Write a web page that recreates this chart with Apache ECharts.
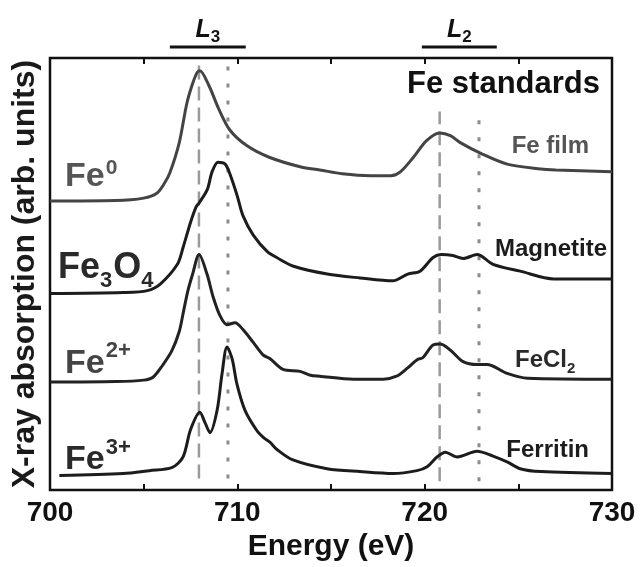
<!DOCTYPE html>
<html>
<head>
<meta charset="utf-8">
<script src="https://cdn.jsdelivr.net/npm/echarts@6/dist/echarts.min.js"></script>
<style>
  html, body { margin: 0; padding: 0; background: #fff; }
  #chart { width: 640px; height: 567px; }
</style>
</head>
<body>
<div id="chart"></div>
<script>
const FONT = '"Liberation Sans", Arial, Helvetica, sans-serif';

// Fe L-edge XAS spectra: [energy (eV), intensity above the curve's own pre-edge level]
const feFilm = [
  [700, 0], [703.5, 0.05], [705.0, 0.3], [705.7, 0.8], [706.1, 1.8], [706.4, 2.9],
  [706.9, 6.0], [707.3, 10.0], [707.6, 12.0], [707.85, 13.2], [708.0, 13.4], [708.5, 11.8],
  [709.0, 9.5], [709.6, 7.3], [710.5, 5.7], [711.7, 4.5], [713.4, 3.5], [714.4, 3.2],
  [715.6, 2.8], [717.1, 2.6], [718.2, 2.6], [718.7, 3.0], [719.4, 4.5], [720.1, 6.2],
  [720.8, 7.0], [721.4, 6.7], [721.9, 6.0], [723.0, 4.9], [724.4, 3.8], [726.2, 3.3],
  [727.0, 3.2], [730, 3.0]
];
const magnetite = [
  [700, 0], [703.9, 0.1], [705.2, 0.3], [705.9, 1.0], [706.8, 3.0], [707.1, 4.7],
  [707.5, 7.3], [707.8, 8.9], [707.96, 9.3], [708.4, 10.7], [708.65, 12.5], [708.97, 13.5],
  [709.35, 13.3], [709.6, 12.3], [710.0, 10.0], [710.3, 8.0], [710.85, 6.0], [711.6, 4.3],
  [712.1, 3.7], [713.0, 2.8], [714.8, 2.0], [716.55, 1.6], [718.3, 1.3], [719.1, 2.0],
  [719.75, 2.3], [720.45, 3.7], [720.9, 4.0], [721.5, 3.9], [722.05, 3.6], [722.8, 4.0],
  [723.65, 3.0], [725.1, 2.3], [726.9, 1.5], [730, 1.5]
];
const feCl2 = [
  [700, 0], [703.5, 0.05], [705.0, 0.2], [705.5, 0.5], [706.0, 1.7], [706.5, 3.2],
  [706.9, 5.2], [707.1, 7.0], [707.35, 9.3], [707.6, 11.0], [707.96, 13.1], [708.38, 11.1],
  [708.7, 8.8], [709.08, 6.8], [709.45, 5.9], [709.88, 6.1], [710.3, 5.4], [710.84, 4.1],
  [711.37, 2.8], [711.75, 2.4], [712.44, 1.3], [713.35, 1.1], [713.9, 0.7], [714.4, 0.6],
  [716.2, 0.3], [717.8, 0.3], [718.5, 0.6], [719.06, 1.4], [719.6, 2.3], [719.9, 2.5],
  [720.45, 3.8], [720.82, 3.9], [721.36, 3.3], [722.05, 2.1], [722.8, 1.8], [723.33, 1.8],
  [724.4, 0.9], [725.5, 0.4], [730, 0.3]
];
const ferritin = [
  [700.5, 0], [703.9, 0.2], [705.3, 0.5], [706.5, 0.8], [707.1, 1.9], [707.5, 4.7],
  [708.0, 6.5], [708.28, 5.4], [708.54, 4.4], [708.92, 6.7], [709.18, 10.4], [709.45, 13.2],
  [709.72, 12.0], [709.98, 9.4], [710.41, 6.7], [711.05, 4.6], [711.4, 3.9], [711.75, 3.4],
  [712.1, 2.7], [712.97, 1.6], [714.79, 0.7], [716.55, 0.4], [718.31, 0.2], [719.59, 0.5],
  [720.13, 0.9], [720.66, 1.9], [721.1, 2.4], [721.73, 1.9], [722.8, 2.5], [723.65, 2.0],
  [724.4, 1.4], [725.1, 0.7], [726.2, 0.4], [730, 0.2]
];

// vertical stacking of the four standards (arb. units)
const baselines = [29.7, 20.2, 11.1, 1.5];
const sampleNames = ['Fe film', 'Magnetite', 'FeCl2', 'Ferritin'];

// x-axis labels
const xTickLabels = [700, 710, 720, 730];

// reference energies: Fe2+ L3/L2 maxima (dashed) and Fe3+ maxima (dotted), with vertical extent
const dashedGuides = [[707.95, 1.2, 43.9], [720.8, 0.9, 38.9]];
const dottedGuides = [[709.5, 1.2, 43.9], [722.9, 0.9, 38.9]];

// edge brackets drawn above the frame
const edgeBrackets = [
  { name: 'L', sub: '3', from: 706.4, to: 710.45 },
  { name: 'L', sub: '2', from: 719.85, to: 723.85 }
];

const lineColors = ['#444444', '#1c1c1c', '#222222', '#1c1c1c'];

const chart = echarts.init(document.getElementById('chart'), null, { renderer: 'canvas' });

const spectra = [feFilm, magnetite, feCl2, ferritin];
const series = [];

dashedGuides.forEach(g => series.push({
  type: 'line', data: [[g[0], g[1]], [g[0], g[2]]], showSymbol: false, silent: true, z: 1,
  lineStyle: { color: '#9a9a9a', width: 2.5, type: [14, 7] }
}));
dottedGuides.forEach(g => series.push({
  type: 'line', data: [[g[0], g[1]], [g[0], g[2]]], showSymbol: false, silent: true, z: 1,
  lineStyle: { color: '#8c8c8c', width: 3, type: [4, 13] }
}));
spectra.forEach((s, i) => series.push({
  type: 'line', name: sampleNames[i],
  data: s.map(p => [p[0], p[1] + baselines[i]]),
  showSymbol: false, smooth: 0.3, z: 3,
  lineStyle: { color: lineColors[i], width: 3 }
}));

const tickStyle = { inside: true, length: 6, lineStyle: { color: '#111', width: 2 } };

chart.setOption({
  animation: false,
  backgroundColor: '#fff',
  grid: { left: 50, right: 28, top: 58, bottom: 65, show: true, borderColor: '#111', borderWidth: 2.5 },
  xAxis: [
    {
      type: 'value', min: 700, max: 730, interval: 5, position: 'bottom',
      axisLine: { show: false }, axisTick: tickStyle, splitLine: { show: false },
      axisLabel: {
        formatter: v => (xTickLabels.includes(v) ? String(v) : ''),
        fontSize: 28, fontWeight: 'bold', color: '#111', fontFamily: FONT, margin: 9
      },
      name: 'Energy (eV)', nameLocation: 'middle', nameGap: 36,
      nameTextStyle: { fontSize: 30, fontWeight: 'bold', color: '#111', fontFamily: FONT }
    },
    {
      type: 'value', min: 700, max: 730, interval: 5, position: 'top',
      axisLine: { show: false }, axisTick: tickStyle, splitLine: { show: false },
      axisLabel: { show: false }
    }
  ],
  yAxis: {
    type: 'value', min: 0, max: 44.4,
    axisLine: { show: false }, axisTick: { show: false }, axisLabel: { show: false },
    splitLine: { show: false },
    name: 'X-ray absorption (arb. units)', nameLocation: 'middle', nameGap: 9, nameRotate: 90,
    nameTextStyle: { fontSize: 32, fontWeight: 'bold', color: '#1a1a1a', fontFamily: FONT }
  },
  series: series
});

// text with sub/superscripts laid out piece by piece
const measureCtx = document.createElement('canvas').getContext('2d');
function textWidth(t, size, weight, style) {
  measureCtx.font = `${style || 'normal'} ${weight || 'bold'} ${size}px ${FONT}`;
  return measureCtx.measureText(t).width;
}
function compound(x, y, parts, color) {
  const out = [];
  let cx = x;
  parts.forEach(p => {
    const style = p.italic ? 'italic' : 'normal';
    out.push({
      type: 'text', x: cx, y: y + (p.dy || 0), z: 10,
      style: {
        text: p.t, fill: color, font: `${style} bold ${p.size}px ${FONT}`,
        align: 'left', verticalAlign: 'middle'
      }
    });
    cx += textWidth(p.t, p.size, 'bold', style) + (p.gap || 0);
  });
  return out;
}
function plain(xRight, y, t, size, color) {
  return {
    type: 'text', x: xRight, y: y, z: 10,
    style: { text: t, fill: color, font: `bold ${size}px ${FONT}`, align: 'right', verticalAlign: 'middle' }
  };
}

const graphics = [];
// oxidation-state labels on the left
graphics.push(...compound(65, 177, [{ t: 'Fe', size: 34, gap: 1 }, { t: '0', size: 21, dy: -9 }], '#555'));
graphics.push(...compound(58, 268, [{ t: 'Fe', size: 36 }, { t: '3', size: 22, dy: 13, gap: 1 }, { t: 'O', size: 36 }, { t: '4', size: 22, dy: 13 }], '#2a2a2a'));
graphics.push(...compound(65, 364, [{ t: 'Fe', size: 34, gap: 1 }, { t: '2+', size: 22, dy: -13 }], '#444'));
graphics.push(...compound(65, 460, [{ t: 'Fe', size: 34, gap: 1 }, { t: '3+', size: 22, dy: -12 }], '#2a2a2a'));

// sample names on the right
graphics.push(plain(600, 84, 'Fe standards', 31, '#111'));
graphics.push(plain(589, 146, 'Fe film', 24, '#555'));
graphics.push(plain(607, 249, 'Magnetite', 24, '#1c1c1c'));
graphics.push(...compound(515, 360, [{ t: 'FeCl', size: 24 }, { t: '2', size: 15, dy: 9 }], '#2a2a2a'));
graphics.push(plain(589, 450, 'Ferritin', 24, '#1c1c1c'));

// L3 / L2 edge brackets
edgeBrackets.forEach(b => {
  const p0 = chart.convertToPixel({ xAxisIndex: 0, yAxisIndex: 0 }, [b.from, 0]);
  const p1 = chart.convertToPixel({ xAxisIndex: 0, yAxisIndex: 0 }, [b.to, 0]);
  graphics.push({
    type: 'line', z: 10,
    shape: { x1: p0[0], y1: 47, x2: p1[0], y2: 47 },
    style: { stroke: '#111', lineWidth: 3 }
  });
  const mid = (p0[0] + p1[0]) / 2;
  const wL = textWidth(b.name, 25, 'bold', 'italic');
  const wS = textWidth(b.sub, 17, 'bold', 'normal');
  graphics.push(...compound(mid - (wL + wS) / 2, 30, [
    { t: b.name, size: 25, italic: true },
    { t: b.sub, size: 17, dy: 7 }
  ], '#111'));
});

chart.setOption({ graphic: graphics });
</script>
</body>
</html>
